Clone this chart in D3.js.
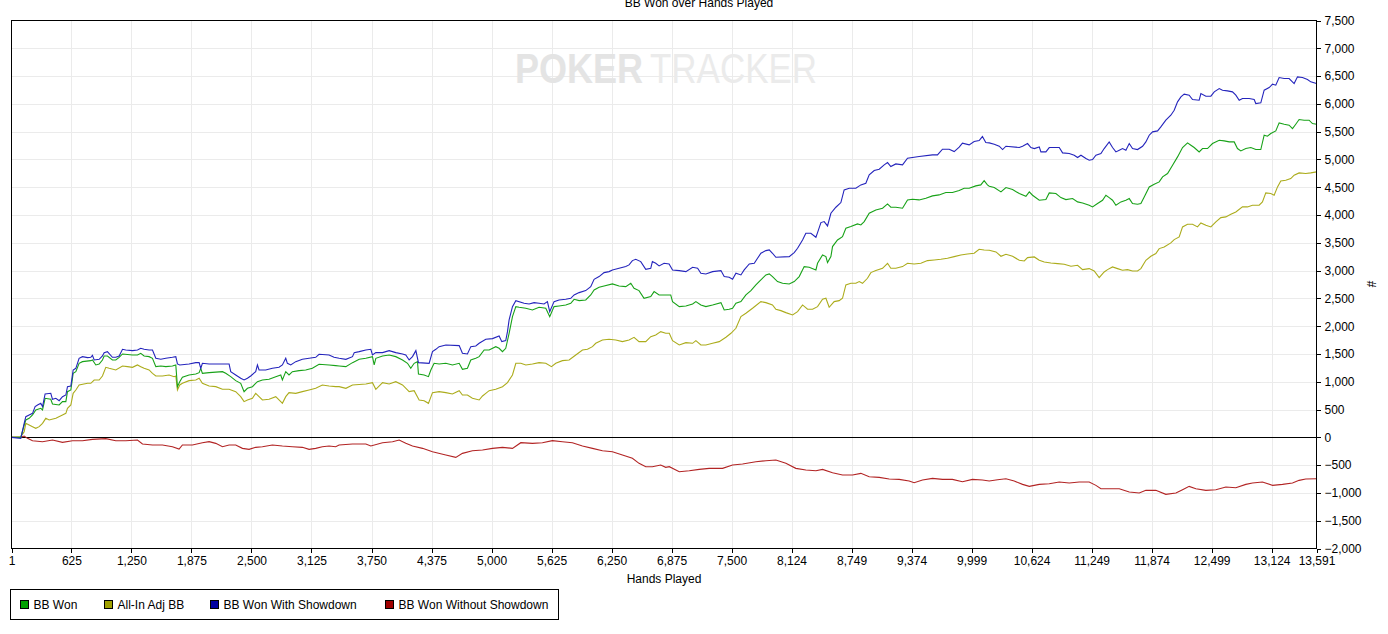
<!DOCTYPE html>
<html>
<head>
<meta charset="utf-8">
<script src="https://cdn.jsdelivr.net/npm/d3@7"></script>
<style>
  body { margin: 0; background: #fff; }
  text { font-family: "Liberation Sans", Arial, sans-serif; }
</style>
</head>
<body>
<div id="chart"></div>
<script>
// Hands played at each reading, paired with cumulative BB
const bbWon = [
  [1,0],[98,0],[133,222],[150,312],[185,342],[220,402],[254,492],[306,522],[324,492],[351,702],[410,684],[428,600],[497,582],[532,642],[567,642],[584,822],[619,852],[643,1152],[671,1182],[705,1332],[740,1362],[827,1380],[844,1392],[879,1302],[914,1320],[948,1392],[966,1464],[1000,1464],[1052,1392],[1087,1392],[1122,1440],[1157,1500],[1261,1482],[1313,1482],[1347,1512],[1382,1464],[1434,1452],[1469,1422],[1504,1272],[1556,1284],[1608,1272],[1677,1284],[1712,1302],[1729,912],[1753,1002],[1781,1080],[1850,1122],[1920,1140],[1955,1164],[1972,1242],[1989,1152],[2059,1164],[2198,1182],[2232,1152],[2284,1092],[2336,1020],[2388,972],[2423,822],[2458,882],[2510,912],[2562,1002],[2614,1032],[2683,1044],[2753,1092],[2805,1122],[2822,1032],[2857,1182],[2891,1122],[2926,1182],[2996,1200],[3065,1212],[3134,1242],[3204,1314],[3308,1302],[3377,1290],
  [3413,1284],[3483,1272],[3552,1344],[3622,1404],[3691,1422],[3760,1452],[3778,1302],[3795,1422],[3865,1464],[3934,1482],[4003,1452],[4073,1392],[4125,1332],[4159,1242],[4194,1332],[4229,1362],[4239,1140],[4298,1122],[4343,1092],[4368,1212],[4402,1332],[4454,1320],[4524,1332],[4593,1302],[4663,1332],[4697,1224],[4749,1242],[4784,1392],[4836,1422],[4871,1452],[4923,1572],[4975,1572],[5044,1632],[5079,1602],[5114,1542],[5148,1602],[5183,1872],[5218,2172],[5253,2352],[5287,2340],[5357,2322],[5426,2292],[5495,2340],[5565,2322],[5606,2172],[5651,2352],[5703,2364],[5773,2382],[5825,2412],[5860,2484],[5912,2460],[5981,2472],[6033,2562],[6068,2652],[6120,2700],[6172,2724],[6259,2760],[6328,2724],[6398,2712],[6450,2772],[6484,2682],[6536,2640],[6588,2502],[6658,2532],[6693,2622],[6745,2562],[6866,2562],
  [6885,2442],[6955,2352],[7024,2364],[7094,2400],[7128,2442],[7180,2382],[7232,2352],[7302,2382],[7389,2424],[7423,2292],[7475,2304],[7510,2322],[7545,2412],[7597,2442],[7649,2562],[7701,2640],[7753,2742],[7805,2832],[7857,2922],[7892,2940],[7926,2892],[7978,2802],[8031,2772],[8100,2760],[8152,2802],[8204,2892],[8256,3072],[8308,3060],[8378,3012],[8395,3132],[8447,3282],[8482,3252],[8499,3144],[8534,3252],[8551,3432],[8603,3552],[8655,3612],[8690,3762],[8742,3792],[8811,3840],[8846,3822],[8881,3882],[8933,4032],[9002,4092],[9072,4122],[9124,4200],[9158,4140],[9210,4140],[9280,4122],[9332,4272],[9384,4284],[9453,4272],[9523,4302],[9592,4344],[9661,4362],[9731,4404],[9800,4404],[9870,4440],[9922,4482],[9974,4482],[10043,4524],[10095,4542],[10130,4620],[10164,4542],
  [10183,4518],[10235,4494],[10305,4416],[10357,4494],[10426,4458],[10496,4386],[10565,4338],[10600,4416],[10634,4356],[10704,4266],[10773,4278],[10808,4398],[10877,4386],[10929,4314],[10981,4278],[11051,4296],[11103,4236],[11155,4218],[11224,4176],[11259,4146],[11311,4206],[11363,4266],[11398,4356],[11432,4314],[11467,4266],[11502,4176],[11554,4236],[11606,4266],[11641,4296],[11675,4206],[11727,4194],[11762,4206],[11797,4326],[11849,4506],[11901,4554],[11953,4596],[11988,4686],[12040,4746],[12092,4896],[12144,5046],[12196,5214],[12248,5298],[12283,5256],[12317,5214],[12369,5136],[12404,5196],[12456,5196],[12508,5286],[12578,5346],[12630,5334],[12682,5316],[12734,5316],[12768,5196],[12803,5154],[12855,5196],[12907,5214],[12959,5178],[13011,5178],[13046,5436],[13080,5418],[13115,5466],[13167,5514],[13202,5658],[13254,5634],[13306,5616],[13341,5556],[13375,5634],[13410,5718],[13462,5706],[13514,5706],[13549,5646],[13591,5634]
];

const allInAdjBB = [
  [1,0],[98,12],[133,102],[150,252],[185,222],[220,192],[254,162],[289,192],[324,252],[358,342],[393,312],[463,342],[532,402],[567,432],[584,522],[619,582],[643,792],[671,852],[705,942],[793,972],[827,972],[862,1032],[914,1032],[948,1104],[983,1260],[1018,1242],[1087,1212],[1157,1284],[1209,1272],[1261,1260],[1313,1302],[1347,1272],[1382,1242],[1434,1212],[1469,1152],[1504,1104],[1573,1104],[1642,1122],[1694,1092],[1712,1104],[1729,852],[1753,942],[1781,972],[1850,1020],[1920,1032],[1955,1062],[1989,972],[2059,924],[2128,912],[2198,864],[2267,864],[2336,822],[2388,732],[2423,642],[2458,672],[2510,702],[2544,792],[2579,732],[2614,672],[2683,684],[2753,732],[2805,642],[2822,612],[2857,732],[2891,804],[2961,792],[3030,822],[3100,852],[3169,882],[3238,942],[3308,924],[3377,912],
  [3413,912],[3483,882],[3552,942],[3691,960],[3760,984],[3795,864],[3865,984],[3934,960],[4003,1002],[4073,942],[4142,822],[4194,840],[4246,672],[4298,660],[4343,612],[4385,804],[4454,822],[4524,804],[4593,780],[4663,840],[4697,762],[4749,762],[4801,702],[4871,672],[4906,744],[4940,792],[4975,840],[5044,864],[5114,912],[5166,984],[5218,1122],[5253,1332],[5305,1332],[5357,1302],[5426,1320],[5495,1344],[5565,1332],[5624,1272],[5669,1332],[5738,1380],[5808,1392],[5877,1482],[5947,1572],[5999,1584],[6051,1632],[6085,1692],[6155,1752],[6224,1764],[6294,1752],[6363,1722],[6432,1752],[6484,1800],[6536,1722],[6606,1722],[6658,1812],[6710,1842],[6762,1902],[6814,1872],
  [6851,1872],[6885,1740],[6955,1662],[7024,1704],[7094,1692],[7128,1740],[7180,1662],[7232,1662],[7302,1692],[7371,1722],[7441,1800],[7493,1872],[7545,1962],[7597,2172],[7649,2232],[7718,2322],[7805,2442],[7857,2424],[7926,2382],[7961,2304],[8013,2280],[8065,2244],[8135,2202],[8187,2262],[8239,2382],[8291,2304],[8343,2304],[8395,2352],[8447,2484],[8482,2502],[8516,2340],[8568,2442],[8620,2460],[8655,2502],[8690,2742],[8742,2772],[8794,2772],[8829,2802],[8863,2772],[8915,2862],[8950,2964],[9002,3000],[9072,3042],[9124,3132],[9158,3042],[9210,3042],[9280,3072],[9332,3132],[9401,3120],[9471,3132],[9540,3180],[9610,3192],[9679,3204],[9748,3222],[9818,3252],[9887,3282],[9956,3300],[10026,3312],[10078,3384],[10130,3372],
  [10183,3366],[10253,3336],[10305,3258],[10357,3294],[10426,3258],[10496,3186],[10548,3174],[10582,3234],[10652,3246],[10704,3186],[10756,3156],[10825,3138],[10895,3126],[10964,3114],[11034,3078],[11103,3096],[11155,3018],[11224,3036],[11276,2994],[11328,2874],[11380,2976],[11415,3018],[11467,3066],[11519,3036],[11571,3006],[11623,3018],[11675,2994],[11727,2994],[11762,3036],[11814,3186],[11866,3258],[11918,3306],[11953,3396],[12005,3426],[12074,3498],[12109,3558],[12161,3606],[12196,3786],[12248,3834],[12300,3834],[12352,3786],[12387,3858],[12439,3816],[12491,3786],[12543,3876],[12595,3954],[12647,3966],[12699,4014],[12751,4056],[12820,4146],[12872,4146],[12924,4176],[12994,4176],[13028,4236],[13063,4398],[13115,4386],[13150,4356],[13185,4506],[13219,4614],[13271,4626],[13323,4656],[13358,4716],[13410,4758],[13479,4746],[13531,4758],[13591,4776]
];

const bbWonShowdown = [
  [1,0],[98,-18],[133,252],[150,372],[185,402],[220,432],[247,552],[272,582],[306,612],[324,552],[351,780],[410,792],[428,684],[463,702],[497,660],[532,732],[567,762],[584,912],[619,924],[643,1212],[671,1242],[705,1422],[740,1452],[793,1434],[827,1440],[844,1476],[862,1392],[914,1404],[948,1464],[966,1524],[1000,1542],[1052,1440],[1087,1440],[1122,1464],[1157,1584],[1191,1572],[1261,1560],[1313,1572],[1347,1602],[1382,1584],[1434,1572],[1469,1572],[1504,1422],[1556,1404],[1608,1422],[1677,1440],[1712,1452],[1729,1320],[1753,1302],[1850,1320],[1920,1344],[1955,1344],[1972,1242],[1989,1332],[2059,1320],[2267,1320],[2284,1182],[2336,1122],[2388,1062],[2423,1032],[2458,1062],[2492,1104],[2544,1182],[2562,1302],[2579,1212],[2648,1212],[2718,1242],[2787,1260],[2822,1302],[2857,1422],[2874,1332],[2909,1302],[2961,1362],[3030,1404],[3100,1422],[3169,1440],[3204,1494],[3308,1482],[3360,1440],
  [3413,1422],[3483,1404],[3552,1452],[3570,1524],[3622,1542],[3691,1572],[3743,1584],[3760,1482],[3795,1524],[3865,1524],[3899,1542],[3934,1560],[4003,1524],[4073,1500],[4107,1482],[4142,1392],[4177,1452],[4212,1560],[4239,1344],[4350,1332],[4385,1542],[4420,1584],[4454,1632],[4524,1662],[4663,1650],[4697,1512],[4749,1500],[4784,1632],[4836,1644],[4871,1692],[4940,1764],[5010,1776],[5079,1824],[5107,1722],[5148,1740],[5166,1902],[5183,2112],[5218,2352],[5253,2460],[5339,2412],[5391,2400],[5443,2424],[5495,2412],[5547,2400],[5582,2442],[5606,2262],[5651,2442],[5703,2472],[5773,2484],[5825,2502],[5860,2562],[5912,2604],[5981,2640],[6033,2712],[6068,2844],[6120,2892],[6172,2964],[6224,2982],[6259,3012],[6328,3042],[6398,3072],[6432,3102],[6467,3180],[6502,3204],[6554,3162],[6606,3024],[6658,3042],[6675,3162],[6710,3132],[6745,3084],[6797,3132],[6849,3120],
  [6885,3012],[6955,3000],[7024,2982],[7094,3060],[7146,3042],[7180,2952],[7232,2940],[7302,2982],[7389,3000],[7423,2892],[7475,2880],[7510,2844],[7545,2952],[7597,2922],[7631,3012],[7684,3120],[7736,3132],[7770,3222],[7805,3312],[7857,3360],[7892,3372],[7926,3312],[7961,3240],[8100,3252],[8152,3324],[8187,3402],[8239,3552],[8273,3672],[8325,3672],[8378,3600],[8395,3684],[8430,3864],[8464,3882],[8499,3804],[8534,4032],[8586,4140],[8638,4224],[8672,4452],[8725,4482],[8794,4482],[8846,4542],[8898,4572],[8933,4722],[8985,4800],[9037,4824],[9089,4902],[9124,4944],[9158,4872],[9210,4920],[9280,4902],[9332,5022],[9453,5052],[9592,5082],[9644,5082],[9696,5184],[9766,5184],[9818,5142],[9870,5220],[9904,5292],[9974,5262],[10026,5322],[10078,5340],[10112,5412],[10147,5304],
  [10183,5298],[10235,5274],[10287,5238],[10322,5178],[10357,5238],[10496,5214],[10530,5238],[10582,5286],[10617,5214],[10652,5196],[10704,5226],[10721,5136],[10773,5136],[10808,5214],[10912,5214],[10947,5118],[11016,5106],[11068,5076],[11103,5034],[11138,5076],[11190,5016],[11224,4986],[11259,4998],[11294,5076],[11346,5106],[11380,5196],[11432,5316],[11467,5214],[11502,5136],[11537,5166],[11571,5196],[11606,5166],[11641,5286],[11675,5196],[11727,5178],[11780,5238],[11814,5316],[11849,5436],[11884,5496],[11936,5514],[11970,5586],[12022,5706],[12074,5796],[12109,5886],[12144,6036],[12179,6126],[12213,6174],[12265,6156],[12300,6078],[12369,6066],[12387,6186],[12439,6138],[12491,6138],[12526,6216],[12578,6276],[12612,6246],[12664,6234],[12716,6216],[12751,6156],[12786,6066],[12820,6096],[12890,6096],[12942,6078],[12959,6006],[13011,6018],[13046,6246],[13098,6294],[13133,6354],[13167,6336],[13202,6474],[13254,6456],[13306,6456],[13358,6366],[13393,6486],[13445,6474],[13497,6438],[13531,6396],[13591,6366]
];

const bbWonNoShowdown = [
  [1,0],[98,0],[133,24],[168,-18],[220,-60],[324,-78],[428,-48],[532,-90],[636,-60],[740,-60],[844,-36],[983,-24],[1087,-60],[1191,-60],[1313,-48],[1365,-120],[1469,-138],[1573,-138],[1677,-168],[1746,-210],[1781,-138],[1885,-138],[1989,-96],[2059,-78],[2128,-108],[2198,-168],[2267,-138],[2336,-138],[2406,-198],[2475,-216],[2544,-180],[2614,-168],[2718,-138],[2822,-156],[2926,-168],[3030,-180],[3100,-216],[3169,-198],[3238,-168],[3308,-156],[3377,-168],
  [3413,-138],[3552,-120],[3691,-120],[3743,-156],[3865,-96],[3969,-78],[4038,-48],[4107,-108],[4177,-156],[4281,-198],[4385,-258],[4524,-318],[4628,-360],[4697,-288],[4801,-240],[4906,-228],[5010,-198],[5114,-180],[5218,-198],[5305,-96],[5426,-108],[5530,-96],[5634,-60],[5738,-78],[5842,-96],[5947,-156],[6051,-198],[6155,-240],[6259,-258],[6363,-318],[6467,-378],[6536,-468],[6606,-528],[6675,-528],[6762,-498],[6814,-540],
  [6851,-528],[6955,-618],[7059,-600],[7163,-576],[7267,-558],[7406,-558],[7510,-498],[7614,-480],[7753,-438],[7857,-420],[7961,-408],[8065,-468],[8169,-558],[8273,-588],[8378,-600],[8447,-576],[8551,-636],[8655,-678],[8759,-678],[8846,-648],[8933,-708],[9037,-720],[9141,-750],[9245,-756],[9349,-786],[9401,-816],[9488,-768],[9592,-738],[9696,-756],[9800,-756],[9904,-798],[10008,-756],[10112,-768],
  [10183,-786],[10270,-762],[10357,-744],[10443,-786],[10530,-846],[10600,-882],[10704,-846],[10808,-834],[10912,-804],[11016,-822],[11120,-804],[11224,-804],[11294,-864],[11346,-924],[11432,-924],[11537,-924],[11641,-984],[11745,-1002],[11814,-954],[11918,-954],[12022,-1026],[12127,-1002],[12196,-942],[12265,-882],[12335,-924],[12439,-954],[12543,-942],[12647,-894],[12751,-906],[12855,-846],[12924,-822],[13028,-804],[13133,-864],[13237,-846],[13341,-822],[13410,-774],[13479,-750],[13591,-744]
];

const seriesNames = ["BB Won", "All-In Adj BB", "BB Won With Showdown", "BB Won Without Showdown"];
const xTickValues = [1, 625, 1250, 1875, 2500, 3125, 3750, 4375, 5000, 5625, 6250, 6875, 7500, 8124, 8749, 9374, 9999, 10624, 11249, 11874, 12499, 13124, 13591];
const yTickValues = [-2000, -1500, -1000, -500, 0, 500, 1000, 1500, 2000, 2500, 3000, 3500, 4000, 4500, 5000, 5500, 6000, 6500, 7000, 7500];

// Colours: line colour and legend swatch colour per series
const lineColors = ["#18a218", "#acac1c", "#2424bc", "#b22424"];
const swatchColors = ["#00a000", "#a0a000", "#0000a0", "#a00000"];

const width = 1388;
const height = 634;
const marginTop = 20.5;
const marginRight = 71.5;
const marginBottom = 85.5;
const marginLeft = 11.5;

const x = d3.scaleLinear()
  .domain([1, 13591])
  .range([marginLeft, width - marginRight]);

const y = d3.scaleLinear()
  .domain([-2000, 7500])
  .range([height - marginBottom, marginTop]);

const svg = d3.select("#chart").append("svg")
  .attr("width", width)
  .attr("height", height)
  .style("display", "block");

svg.append("rect")
  .attr("width", width).attr("height", height).attr("fill", "#fff");

// Grid lines
svg.append("g")
  .attr("stroke", "#ebebeb")
  .attr("shape-rendering", "crispEdges")
  .selectAll("line")
  .data(xTickValues.slice(1, -1))
  .join("line")
  .attr("x1", d => Math.round(x(d)) + 0.5).attr("x2", d => Math.round(x(d)) + 0.5)
  .attr("y1", y(7500)).attr("y2", y(-2000));

svg.append("g")
  .attr("stroke", "#ebebeb")
  .attr("shape-rendering", "crispEdges")
  .selectAll("line")
  .data(yTickValues.slice(1, -1))
  .join("line")
  .attr("x1", x(1)).attr("x2", x(13591))
  .attr("y1", d => Math.round(y(d)) + 0.5).attr("y2", d => Math.round(y(d)) + 0.5);

// Watermark
svg.append("text")
  .attr("x", 515).attr("y", 83)
  .attr("font-size", 42).attr("font-weight", "bold")
  .attr("fill", "#e4e4e4")
  .attr("textLength", 128)
  .attr("lengthAdjust", "spacingAndGlyphs")
  .text("POKER");
svg.append("text")
  .attr("x", 650).attr("y", 83)
  .attr("font-size", 42)
  .attr("fill", "#ebebeb")
  .attr("textLength", 167)
  .attr("lengthAdjust", "spacingAndGlyphs")
  .text("TRACKER");

// Zero line
svg.append("line")
  .attr("x1", x(1)).attr("x2", x(13591))
  .attr("y1", Math.round(y(0)) + 0.5).attr("y2", Math.round(y(0)) + 0.5)
  .attr("stroke", "#000")
  .attr("shape-rendering", "crispEdges");

// Lines
const line = d3.line()
  .x(d => x(d[0]))
  .y(d => y(d[1]));

const seriesData = [bbWon, allInAdjBB, bbWonShowdown, bbWonNoShowdown];
const drawOrder = [3, 1, 0, 2];
drawOrder.forEach(i => {
  svg.append("path")
    .datum(seriesData[i])
    .attr("fill", "none")
    .attr("stroke", lineColors[i])
    .attr("stroke-width", 1.1)
    .attr("d", line);
});

// Plot frame
svg.append("rect")
  .attr("x", marginLeft).attr("y", marginTop)
  .attr("width", x(13591) - marginLeft).attr("height", y(-2000) - marginTop)
  .attr("fill", "none").attr("stroke", "#000")
  .attr("shape-rendering", "crispEdges");

// Add the y-axis (right side).
svg.append("g")
  .attr("transform", `translate(${x(13591)},0)`)
  .call(d3.axisRight(y).tickValues(yTickValues).tickSize(4).tickPadding(4).tickFormat(d3.format(",")))
  .call(g => g.select(".domain").remove())
  .call(g => g.selectAll("line").attr("shape-rendering", "crispEdges"))
  .call(g => g.selectAll("text").attr("font-size", 12).attr("fill", "#000")
    .attr("font-family", "'Liberation Sans', Arial, sans-serif"));

// Add the x-axis.
svg.append("g")
  .attr("transform", `translate(0,${y(-2000)})`)
  .call(d3.axisBottom(x).tickValues(xTickValues).tickSize(4).tickPadding(4).tickFormat(d3.format(",")))
  .call(g => g.select(".domain").remove())
  .call(g => g.selectAll("line").attr("shape-rendering", "crispEdges"))
  .call(g => g.selectAll("text").attr("font-size", 12).attr("fill", "#000")
    .attr("font-family", "'Liberation Sans', Arial, sans-serif"));

// Titles (the chart title sits half above the top edge, as in the original)
svg.append("text")
  .attr("x", 699).attr("y", 7)
  .attr("text-anchor", "middle").attr("font-size", 12)
  .text("BB Won over Hands Played");

svg.append("text")
  .attr("x", (x(1) + x(13591)) / 2).attr("y", 583)
  .attr("text-anchor", "middle").attr("font-size", 12)
  .text("Hands Played");

svg.append("text")
  .attr("transform", "translate(1367,284) rotate(90)")
  .attr("text-anchor", "middle").attr("font-size", 12)
  .text("#");

// Legend
const legendX = [20.5, 104.5, 210.5, 385.5];
const legend = svg.append("g");
legend.append("rect")
  .attr("x", 10.5).attr("y", 589.5).attr("width", 548).attr("height", 30)
  .attr("fill", "#fff").attr("stroke", "#000")
  .attr("shape-rendering", "crispEdges");
seriesNames.forEach((name, i) => {
  legend.append("rect")
    .attr("x", legendX[i]).attr("y", 600.5).attr("width", 8).attr("height", 8)
    .attr("fill", swatchColors[i]).attr("stroke", "#000")
    .attr("shape-rendering", "crispEdges");
  legend.append("text")
    .attr("x", legendX[i] + 13).attr("y", 609)
    .attr("font-size", 12)
    .text(name);
});
</script>
</body>
</html>
